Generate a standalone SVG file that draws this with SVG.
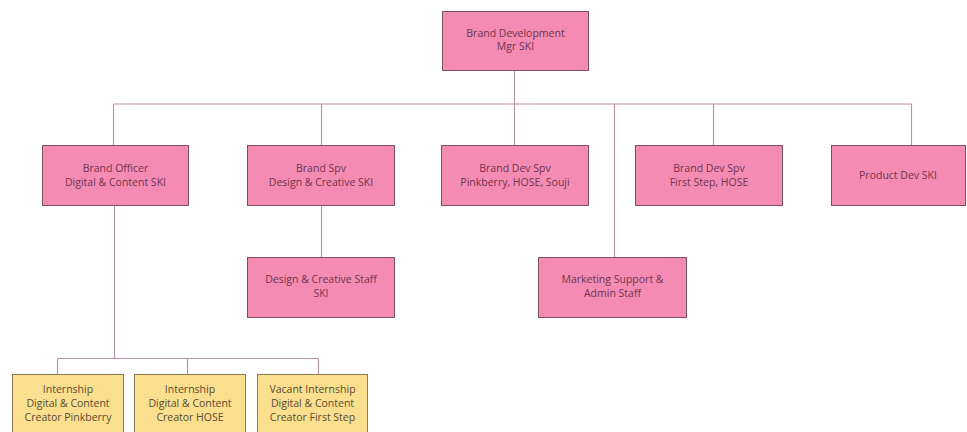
<svg xmlns="http://www.w3.org/2000/svg" width="967" height="432" viewBox="0 0 967 432">
<style>
.pk{fill:#F38BB3;stroke:#7d4f63;stroke-width:1}
.yl{fill:#FADF8E;stroke:#8c7a50;stroke-width:1}
.t{font-family:"Open Sans","Liberation Sans",sans-serif;font-size:10.5px;text-anchor:middle;fill:#72344e}
.ty{font-family:"Open Sans","Liberation Sans",sans-serif;font-size:10.5px;text-anchor:middle;fill:#5a4a30}
.c{fill:none;stroke:#b691a8;stroke-width:1.1}
</style>
<rect width="967" height="432" fill="#ffffff"/>
<g id="connectors">
<path class="c" d="M514.5 70V104M113.5 104H911.5M113.5 104V145M321.5 104V145M514.5 104V145M614.5 104V257M713.5 104V145M911.5 104V145"/>
<path class="c" d="M321.5 206V257"/>
<path class="c" d="M114.5 206V358.5M57.5 358.5H318.5M57.5 358.5V374M187.5 358.5V374M318.5 358.5V374"/>
</g>
<g id="n-mgr"><rect class="pk" x="442.5" y="11.5" width="146" height="59"/><text class="t" x="515.5" y="37">Brand Development</text><text class="t" x="515.5" y="50">Mgr SKI</text></g>
<g id="n-officer"><rect class="pk" x="42.5" y="145.5" width="146" height="60"/><text class="t" x="115.5" y="172">Brand Officer</text><text class="t" x="115.5" y="186">Digital &amp; Content SKI</text></g>
<g id="n-spv-design"><rect class="pk" x="247.5" y="145.5" width="147" height="60"/><text class="t" x="321" y="172">Brand Spv</text><text class="t" x="321" y="186">Design &amp; Creative SKI</text></g>
<g id="n-spv-pinkberry"><rect class="pk" x="441.5" y="145.5" width="147" height="60"/><text class="t" x="515" y="172">Brand Dev Spv</text><text class="t" x="515" y="186">Pinkberry, HOSE, Souji</text></g>
<g id="n-spv-firststep"><rect class="pk" x="635.5" y="145.5" width="147" height="60"/><text class="t" x="709" y="172">Brand Dev Spv</text><text class="t" x="709" y="186">First Step, HOSE</text></g>
<g id="n-product"><rect class="pk" x="831.5" y="145.5" width="134" height="60"/><text class="t" x="898" y="179">Product Dev SKI</text></g>
<g id="n-design-staff"><rect class="pk" x="247.5" y="257.5" width="147" height="60"/><text class="t" x="321" y="283">Design &amp; Creative Staff</text><text class="t" x="321" y="297">SKI</text></g>
<g id="n-marketing"><rect class="pk" x="538.5" y="257.5" width="148" height="60"/><text class="t" x="612.5" y="283">Marketing Support &amp;</text><text class="t" x="612.5" y="297">Admin Staff</text></g>
<g id="n-intern-pinkberry"><rect class="yl" x="12.5" y="374.5" width="111" height="70"/><text class="ty" x="68" y="393">Internship</text><text class="ty" x="68" y="407">Digital &amp; Content</text><text class="ty" x="68" y="421">Creator Pinkberry</text></g>
<g id="n-intern-hose"><rect class="yl" x="134.5" y="374.5" width="111" height="70"/><text class="ty" x="190" y="393">Internship</text><text class="ty" x="190" y="407">Digital &amp; Content</text><text class="ty" x="190" y="421">Creator HOSE</text></g>
<g id="n-intern-firststep"><rect class="yl" x="257.5" y="374.5" width="110" height="70"/><text class="ty" x="312.5" y="393">Vacant Internship</text><text class="ty" x="312.5" y="407">Digital &amp; Content</text><text class="ty" x="312.5" y="421">Creator First Step</text></g>
</svg>
